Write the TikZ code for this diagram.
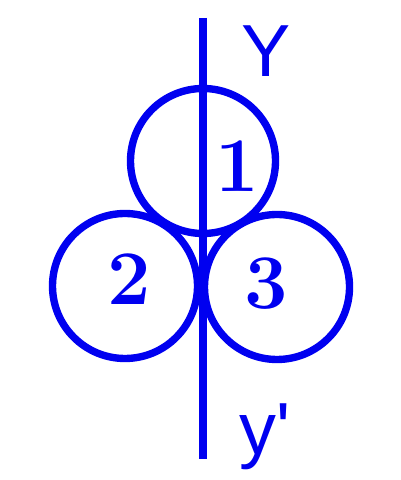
\documentclass[tikz,border=0pt]{standalone}
\usetikzlibrary{positioning}
\usepackage{fontspec}
\newfontfamily\axisfont{Liberation Sans}
\definecolor{inkblue}{RGB}{0,0,240}

\begin{document}
\begin{tikzpicture}[line width=2.1pt,inkblue,
  disc/.style={circle,draw,inner sep=0pt,minimum size=1.45cm},
  num/.style={font=\fontsize{22}{24}\selectfont\bfseries},
  axislabel/.style={font=\fontsize{21}{24}\axisfont}]
  \useasboundingbox (0,0) rectangle (4,4.8);
  % the three discs
  \node[disc] (c1) at (2.03,3.19) {};
  \node[disc] (c2) at (1.25,1.94) {};
  \node[disc] (c3) at (2.77,1.93) {};
  \node[num] (n1) at (2.37,3.14) {1};
  \node[num] (n2) at (1.29,2.01) {2};
  \node[num] (n3) at (2.66,1.96) {3};
  % axis
  \coordinate (top) at (2.03,4.62);
  \coordinate (bot) at (2.03,0.21);
  \draw (top) -- (bot);
  \node[axislabel] (ly) at (2.66,4.29) {Y};
  \node[axislabel] (lyp) at (2.65,0.43) {y'};
\end{tikzpicture}
\end{document}
